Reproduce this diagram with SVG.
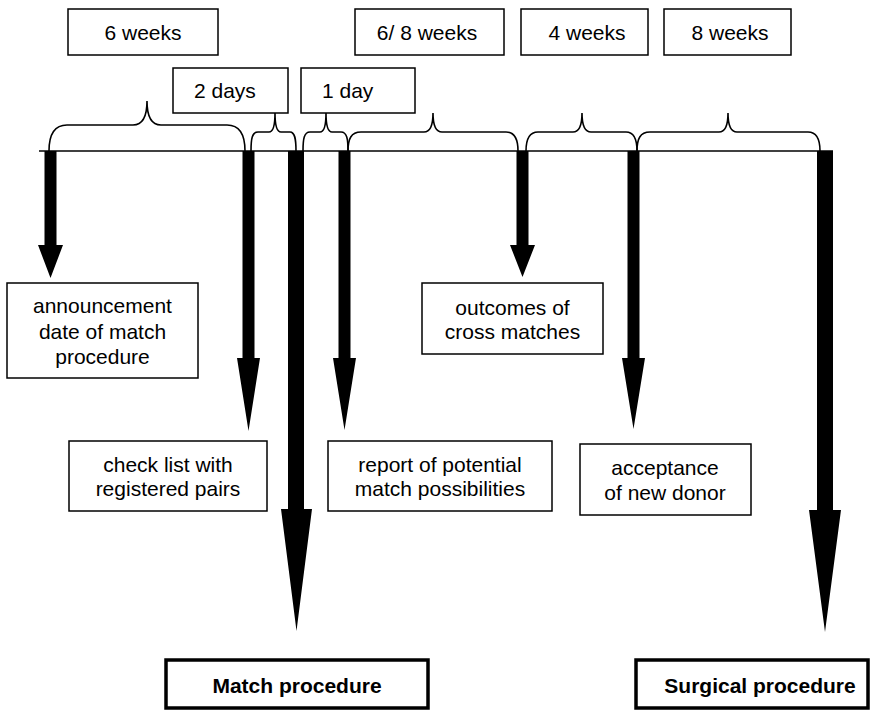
<svg xmlns="http://www.w3.org/2000/svg" width="875" height="710" viewBox="0 0 875 710">
<style>
.box{fill:#fff;stroke:#000;stroke-width:1.5}
.bbox{fill:#fff;stroke:#000;stroke-width:3.5}
.t{font-family:"Liberation Sans",Arial,sans-serif;font-size:21px;fill:#000}
.c{text-anchor:middle}
.b{font-weight:bold}
.br{fill:none;stroke:#000;stroke-width:1.6}
.ar{fill:#000;stroke:none}
</style>
<rect width="875" height="710" fill="#fff"/>
<g id="durations">
<g id="d6w"><rect class="box" x="68" y="9" width="150" height="46"/><text class="t c" x="143" y="40">6 weeks</text></g>
<g id="d68w"><rect class="box" x="355" y="9" width="149" height="46"/><text class="t c" x="427" y="40">6/ 8 weeks</text></g>
<g id="d4w"><rect class="box" x="521" y="9" width="127" height="46"/><text class="t c" x="587" y="40">4 weeks</text></g>
<g id="d8w"><rect class="box" x="664" y="9" width="127" height="46"/><text class="t c" x="730" y="40">8 weeks</text></g>
<g id="d2d"><rect class="box" x="173" y="68" width="115" height="45"/><text class="t" x="194" y="98">2 days</text></g>
<g id="d1d"><rect class="box" x="301" y="68" width="114" height="45"/><text class="t" x="322" y="98">1 day</text></g>
</g>
<g id="connectors">
<line x1="39" y1="151" x2="833" y2="151" stroke="#000" stroke-width="1.7"/>
<path class="br" d="M49,151 C49,136 54,125 67,125 L133,125 C142,125 147,118 147,101 C147,118 152,125 161,125 L227,125 C240,125 245,136 245,151"/>
<path class="br" d="M251,151 C251,139 252,132 258,132 L269,132 C273,132 275,127 275,113 C275,127 277,132 281,132 L290,132 C295,132 296,139 296,151"/>
<path class="br" d="M303,151 C303,139 304,132 310,132 L320,132 C324,132 326,127 326,113 C326,127 328,132 332,132 L341,132 C347,132 348,139 348,151"/>
<path class="br" d="M348,151 C348,139 351,132 361,132 L424,132 C430,132 433,126 433,113 C433,126 436,132 442,132 L506,132 C515,132 518,139 518,151"/>
<path class="br" d="M526,151 C526,139 529,132 538,132 L573,132 C579,132 582,126 582,113 C582,126 585,132 591,132 L626,132 C634,132 637,139 637,151"/>
<path class="br" d="M637,151 C637,139 640,132 650,132 L719,132 C725,132 728,126 728,113 C728,126 731,132 737,132 L808,132 C817,132 820,139 820,151"/>
<polygon class="ar" points="44.5,151 56.5,151 56.5,245 63,245 50.5,278 38,245 44.5,245"/>
<polygon class="ar" points="242.5,151 254.5,151 254.5,358 260,358 248.5,431 237,358 242.5,358"/>
<polygon class="ar" points="288,151 304,151 304,509 312,509 296.5,631 281,509 288,509"/>
<polygon class="ar" points="338.5,151 350.5,151 350.5,358 356,358 344.5,430 333,358 338.5,358"/>
<polygon class="ar" points="516.5,151 528.5,151 528.5,245 535,245 522.5,277 510,245 516.5,245"/>
<polygon class="ar" points="627.5,151 639.5,151 639.5,358 645,358 633.5,429 622,358 627.5,358"/>
<polygon class="ar" points="817,151 833,151 833,510 841,510 825,632 809,510 817,510"/>
</g>
<g id="announcement"><rect class="box" x="7" y="283" width="191" height="95"/><text class="t c" x="102.5" y="313">announcement</text><text class="t c" x="102.5" y="339">date of match</text><text class="t c" x="102.5" y="364">procedure</text></g>
<g id="outcomes"><rect class="box" x="422" y="283" width="181" height="71"/><text class="t c" x="512.5" y="315">outcomes of</text><text class="t c" x="512.5" y="339">cross matches</text></g>
<g id="checklist"><rect class="box" x="69" y="441" width="198" height="70"/><text class="t c" x="168" y="472">check list with</text><text class="t c" x="168" y="496">registered pairs</text></g>
<g id="report"><rect class="box" x="328" y="441" width="224" height="70"/><text class="t c" x="440" y="472">report of potential</text><text class="t c" x="440" y="496">match possibilities</text></g>
<g id="acceptance"><rect class="box" x="580" y="444" width="171" height="71"/><text class="t c" x="665" y="475">acceptance</text><text class="t c" x="665" y="500">of new donor</text></g>
<g id="match"><rect class="bbox" x="166" y="660" width="262" height="48"/><text class="t c b" x="297" y="693">Match procedure</text></g>
<g id="surgical"><rect class="bbox" x="636" y="660" width="232" height="48"/><text class="t c b" x="760" y="693">Surgical procedure</text></g>
</svg>
